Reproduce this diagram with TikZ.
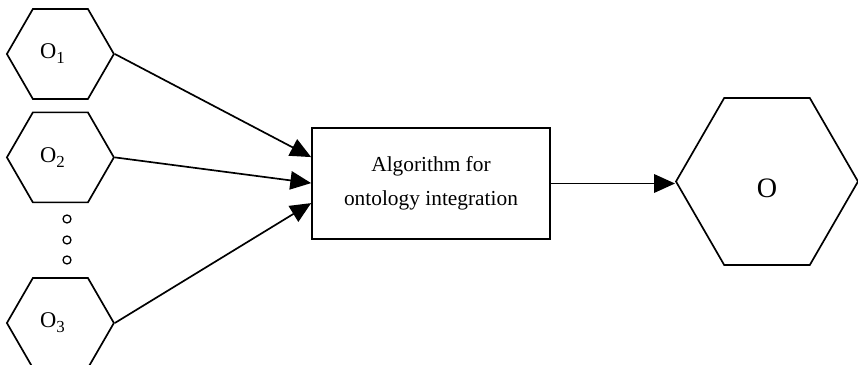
\documentclass[tikz,border=0pt]{standalone}
\usepackage{fontspec}
\setmainfont{Liberation Serif}
\usetikzlibrary{arrows.meta,calc,shapes.symbols}
\newcommand{\ontosub}[1]{O\raisebox{-0.22em}{\fontsize{12}{12}\selectfont #1}\kern.4cm}

\begin{document}
\begin{tikzpicture}[x=1cm,y=1cm,
    hexa/.style={signal,signal to=west and east,signal pointer angle=120,draw,line width=1.2pt,inner sep=0pt},
    link/.style={-{Triangle[length=.52cm,width=.46cm]},line width=1.2pt}]
    \useasboundingbox (0,0) rectangle (21.45,9.125);
    % source ontologies
    \node[hexa,minimum width=2.675cm,minimum height=2.25cm,font=\fontsize{16}{18}\selectfont] (o1) at (1.51,7.775) {\ontosub{1}};
    \node[hexa,minimum width=2.675cm,minimum height=2.25cm,font=\fontsize{16}{18}\selectfont] (o2) at (1.51,5.19) {\ontosub{2}};
    \node[hexa,minimum width=2.675cm,minimum height=2.25cm,font=\fontsize{16}{18}\selectfont] (o3) at (1.51,1.05) {\ontosub{3}};
    \foreach \y in {3.65,3.125,2.625}
      \draw[line width=.9pt] (1.675,\y) circle (.1);
    % integration step and result
    \node[draw,line width=1.2pt,minimum width=5.95cm,minimum height=2.775cm,align=center,font=\fontsize{15.2}{24.1}\selectfont] (alg) at (10.775,4.5375) {Algorithm for\\ontology integration};
    \node[hexa,minimum width=4.55cm,minimum height=4.175cm,text height=.8cm,text depth=0pt,font=\fontsize{20}{20}\selectfont] (res) at (19.175,4.5875) {O};
    \draw[link] (o1.east) -- ([yshift=.66cm]alg.west);
    \draw[link] (o2.east) -- ([yshift=.01cm]alg.west);
    \draw[link] (o3.east) -- ([yshift=-.49cm]alg.west);
    \draw[link] (alg.east) -- (alg.east -| res.west);
  \end{tikzpicture}
\end{document}
